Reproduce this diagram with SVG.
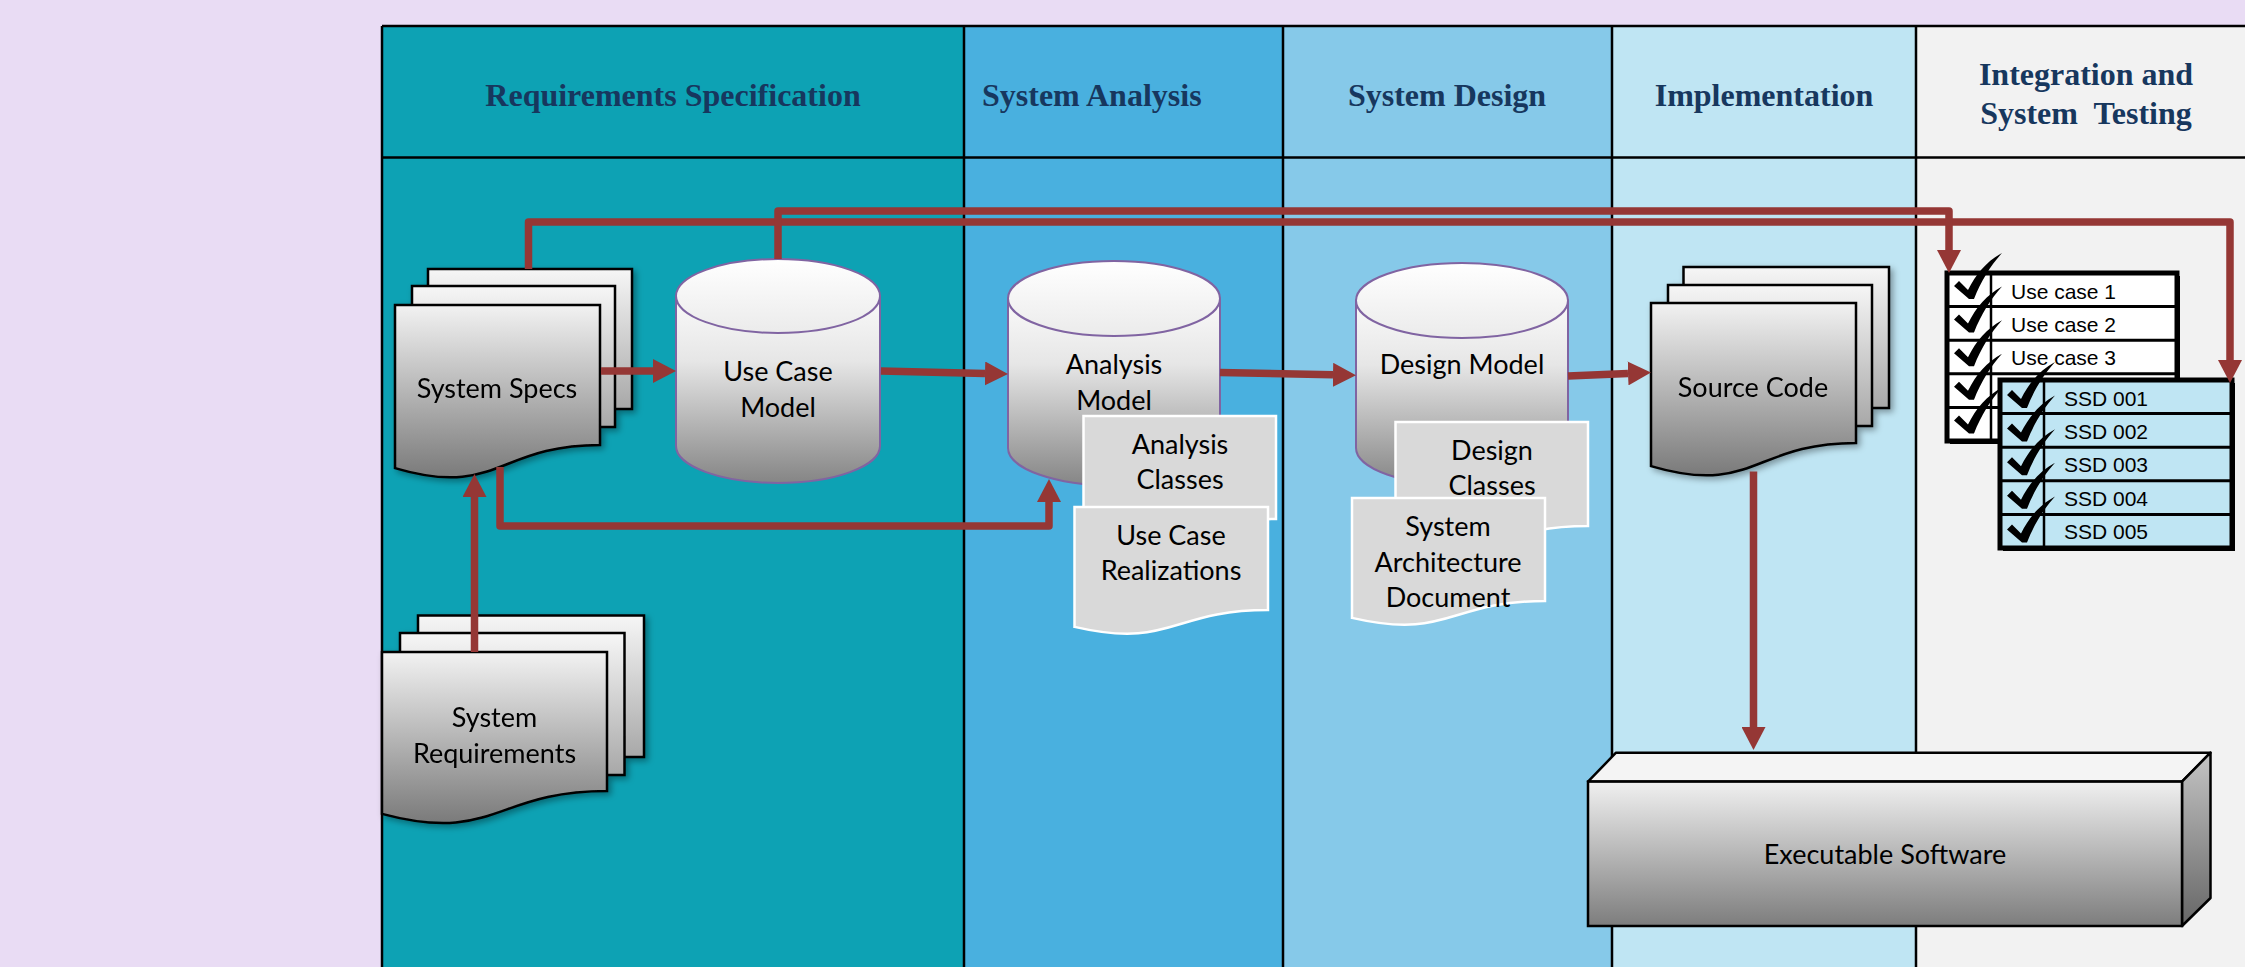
<svg xmlns="http://www.w3.org/2000/svg" xmlns:xlink="http://www.w3.org/1999/xlink" width="2245" height="967" viewBox="0 0 2245 967">
<defs>
<style>
.hdr{font-family:"Liberation Serif","Times New Roman",serif;font-weight:bold;font-size:32px;fill:#17375e}
.lbl{font-family:Lato,"Liberation Sans",sans-serif;font-size:27px;fill:#000;text-anchor:middle}
.tbl{font-family:"Liberation Sans",Arial,sans-serif;font-size:21px;fill:#000}
.grid{stroke:#000;stroke-width:2.5;fill:none}
.conn{fill:none;stroke:#953735;stroke-width:7.5;stroke-linejoin:round}
.page{stroke:#000;stroke-width:2.5;fill:url(#gPage)}
.back{stroke:#000;stroke-width:2.5;fill:url(#gBack)}
.doc{fill:#d9d9d9;stroke:#fff;stroke-width:2.5}
.cylBody{fill:url(#gCyl);stroke:#8064a2;stroke-width:2}
.cylTop{fill:url(#gCap);stroke:#8064a2;stroke-width:2}
.frame{stroke:#000;stroke-width:5}
.row{stroke:#000;stroke-width:3}
.col{stroke:#000;stroke-width:2.5}
</style>
<linearGradient id="gPage" x1="0" y1="0" x2="0" y2="1"><stop offset="0" stop-color="#f2f2f2"/><stop offset="1" stop-color="#7a7a7a"/></linearGradient>
<linearGradient id="gBack" x1="0" y1="0" x2="0" y2="1"><stop offset="0" stop-color="#f6f6f6"/><stop offset="1" stop-color="#a8a8a8"/></linearGradient>
<linearGradient id="gCyl" x1="0" y1="0" x2="0" y2="1"><stop offset="0" stop-color="#fafafa"/><stop offset="0.35" stop-color="#e6e6e6"/><stop offset="1" stop-color="#858585"/></linearGradient>
<linearGradient id="gCap" x1="0" y1="0" x2="0" y2="1"><stop offset="0" stop-color="#ffffff"/><stop offset="1" stop-color="#ebebeb"/></linearGradient>
<linearGradient id="gFront" x1="0" y1="0" x2="0" y2="1"><stop offset="0" stop-color="#f0f0f0"/><stop offset="1" stop-color="#7d7d7d"/></linearGradient>
<linearGradient id="gSide" x1="0" y1="0" x2="0" y2="1"><stop offset="0" stop-color="#c4c4c4"/><stop offset="1" stop-color="#666666"/></linearGradient>
<filter id="sh" x="-10%" y="-10%" width="130%" height="130%"><feDropShadow dx="3" dy="3" stdDeviation="3" flood-color="#000" flood-opacity="0.35"/></filter>
<marker id="arr" viewBox="0 -12 23 24" refX="0" refY="0" markerWidth="23" markerHeight="24" markerUnits="userSpaceOnUse" orient="auto"><path d="M0,-12 L23,0 L0,12 Z" fill="#953735"/></marker>
<path id="chk" d="M-17,-12 L-12,-17 L-3,-8 C5,-24 16,-37 31,-45 C20,-33 10,-17 3,1 L-2,1 Z" fill="#000"/>
</defs>

<rect x="0" y="0" width="2245" height="967" fill="#e9dcf4"/>

<g id="swimlanes">
<rect x="382" y="26" width="582" height="941" fill="#0da2b4"/>
<rect x="964" y="26" width="319" height="941" fill="#49b0df"/>
<rect x="1283" y="26" width="329" height="941" fill="#86c9e9"/>
<rect x="1612" y="26" width="304" height="941" fill="#bfe5f3"/>
<rect x="1916" y="26" width="329" height="941" fill="#f2f2f2"/>
<path class="grid" d="M382,26 H2245 M382,157.5 H2245 M382,26 V967 M964,26 V967 M1283,26 V967 M1612,26 V967 M1916,26 V967"/>
<text class="hdr" x="673" y="106" text-anchor="middle">Requirements Specification</text>
<text class="hdr" x="982" y="106">System Analysis</text>
<text class="hdr" x="1447" y="106" text-anchor="middle">System Design</text>
<text class="hdr" x="1764" y="106" text-anchor="middle">Implementation</text>
<text class="hdr" x="2086" y="85" text-anchor="middle">Integration and</text>
<text class="hdr" x="2086" y="124" text-anchor="middle" xml:space="preserve" style="white-space:pre">System  Testing</text>
</g>

<g id="system-specs" filter="url(#sh)">
<rect class="back" x="428" y="269" width="204" height="140"/>
<rect class="back" x="412" y="286" width="203" height="141"/>
<path class="page" d="M395,305 H600 V445 C497.5,445 497.5,498.4 395,468.1 Z"/>
<text class="lbl" x="497" y="398">System Specs</text>
</g>

<g id="system-requirements" filter="url(#sh)">
<rect class="back" x="418" y="615.5" width="226" height="141.5"/>
<rect class="back" x="400" y="633" width="224.5" height="142"/>
<path class="page" d="M382,652 H607 V791 C494.5,791 494.5,843.9 382,813.9 Z"/>
<text class="lbl" x="494.5" y="727">System</text>
<text class="lbl" x="494.5" y="763">Requirements</text>
</g>

<g id="use-case-model">
<path class="cylBody" d="M676,296 V446 A102,37 0 0 0 880,446 V296 Z"/>
<ellipse class="cylTop" cx="778" cy="296" rx="102" ry="37"/>
<text class="lbl" x="778" y="381">Use Case</text>
<text class="lbl" x="778" y="417">Model</text>
</g>

<g id="analysis-model">
<path class="cylBody" d="M1008,298.5 V448 A106,37.5 0 0 0 1220,448 V298.5 Z"/>
<ellipse class="cylTop" cx="1114" cy="298.5" rx="106" ry="37.5"/>
<text class="lbl" x="1114" y="374">Analysis</text>
<text class="lbl" x="1114" y="410">Model</text>
</g>

<g id="analysis-classes">
<path class="doc" d="M1083.5,416 H1276 V519 C1179.75,519 1179.75,558.2 1083.5,535.9 Z"/>
<text class="lbl" x="1180" y="454">Analysis</text>
<text class="lbl" x="1180" y="489">Classes</text>
</g>

<g id="use-case-realizations">
<path class="doc" d="M1074.5,507 H1268 V610 C1171.25,610 1171.25,649.2 1074.5,626.9 Z"/>
<text class="lbl" x="1171" y="545">Use Case</text>
<text class="lbl" x="1171" y="580">Realizations</text>
</g>

<g id="design-model">
<path class="cylBody" d="M1356,300.5 V448 A106,37.5 0 0 0 1568,448 V300.5 Z"/>
<ellipse class="cylTop" cx="1462" cy="300.5" rx="106" ry="37.5"/>
<text class="lbl" x="1462" y="374">Design Model</text>
</g>

<g id="design-classes">
<path class="doc" d="M1395.5,422 H1588 V526 C1491.75,526 1491.75,565.6 1395.5,543.1 Z"/>
<text class="lbl" x="1492" y="460">Design</text>
<text class="lbl" x="1492" y="495">Classes</text>
</g>

<g id="system-architecture-document">
<path class="doc" d="M1352,498 H1545 V601 C1448.5,601 1448.5,640.2 1352,617.9 Z"/>
<text class="lbl" x="1448" y="536">System</text>
<text class="lbl" x="1448" y="572">Architecture</text>
<text class="lbl" x="1448" y="607">Document</text>
</g>

<g id="source-code" filter="url(#sh)">
<rect class="back" x="1683.5" y="267" width="205.5" height="141"/>
<rect class="back" x="1668" y="285" width="204" height="141"/>
<path class="page" d="M1651,303 H1856 V443 C1753.5,443 1753.5,496.4 1651,466.1 Z"/>
<text class="lbl" x="1753" y="397">Source Code</text>
</g>

<g id="executable-software">
<polygon points="1588,781.6 1616,752.7 2210.5,752.7 2182,781.6" fill="#f4f4f4" stroke="#000" stroke-width="2.5" stroke-linejoin="round"/>
<polygon points="2182,781.6 2210.5,752.7 2210.5,898 2182,926" fill="url(#gSide)" stroke="#000" stroke-width="2.5" stroke-linejoin="round"/>
<rect x="1588" y="781.6" width="594" height="144.4" fill="url(#gFront)" stroke="#000" stroke-width="2.5"/>
<text class="lbl" x="1885" y="864">Executable Software</text>
</g>

<g id="use-case-checklist">
<rect x="1950" y="276" width="230" height="168" fill="#000"/>
<rect class="frame" x="1947" y="273" width="230" height="168" fill="#ffffff"/>
<path class="row" d="M1947,306.6 H2177 M1947,340.2 H2177 M1947,373.8 H2177 M1947,407.4 H2177"/>
<path class="col" d="M1991,273 V441"/>
<text class="tbl" x="2011" y="299">Use case 1</text>
<text class="tbl" x="2011" y="332">Use case 2</text>
<text class="tbl" x="2011" y="365">Use case 3</text>
<use href="#chk" x="1971" y="298"/>
<use href="#chk" x="1971" y="331.6"/>
<use href="#chk" x="1971" y="365.2"/>
<use href="#chk" x="1971" y="398.8"/>
<use href="#chk" x="1971" y="432.4"/>
</g>

<g id="ssd-checklist">
<rect x="2003" y="383" width="232" height="168" fill="#000"/>
<rect class="frame" x="2000" y="380" width="232" height="168" fill="#bfe5f3"/>
<path class="row" d="M2000,413.6 H2232 M2000,447.2 H2232 M2000,480.8 H2232 M2000,514.4 H2232"/>
<path class="col" d="M2044,380 V548"/>
<text class="tbl" x="2064" y="406">SSD 001</text>
<text class="tbl" x="2064" y="439">SSD 002</text>
<text class="tbl" x="2064" y="472">SSD 003</text>
<text class="tbl" x="2064" y="506">SSD 004</text>
<text class="tbl" x="2064" y="539">SSD 005</text>
<use href="#chk" x="2024" y="407"/>
<use href="#chk" x="2024" y="440.6"/>
<use href="#chk" x="2024" y="474.2"/>
<use href="#chk" x="2024" y="507.8"/>
<use href="#chk" x="2024" y="541.4"/>
</g>

<g id="connectors">
<path class="conn" marker-end="url(#arr)" d="M528.5,269 V222 H2230 V360"/>
<path class="conn" marker-end="url(#arr)" d="M778,259 V211 H1949 V250"/>
<path class="conn" marker-end="url(#arr)" d="M601,371 H653"/>
<path class="conn" marker-end="url(#arr)" d="M881,371 L985,373.5"/>
<path class="conn" marker-end="url(#arr)" d="M1220,372.5 L1333,374.8"/>
<path class="conn" marker-end="url(#arr)" d="M1568,376 L1628,373.4"/>
<path class="conn" marker-end="url(#arr)" d="M474.5,652 V497"/>
<path class="conn" marker-end="url(#arr)" d="M500,467 V526 H1049 V502"/>
<path class="conn" marker-end="url(#arr)" d="M1753.5,471.5 V727"/>
</g>
</svg>
